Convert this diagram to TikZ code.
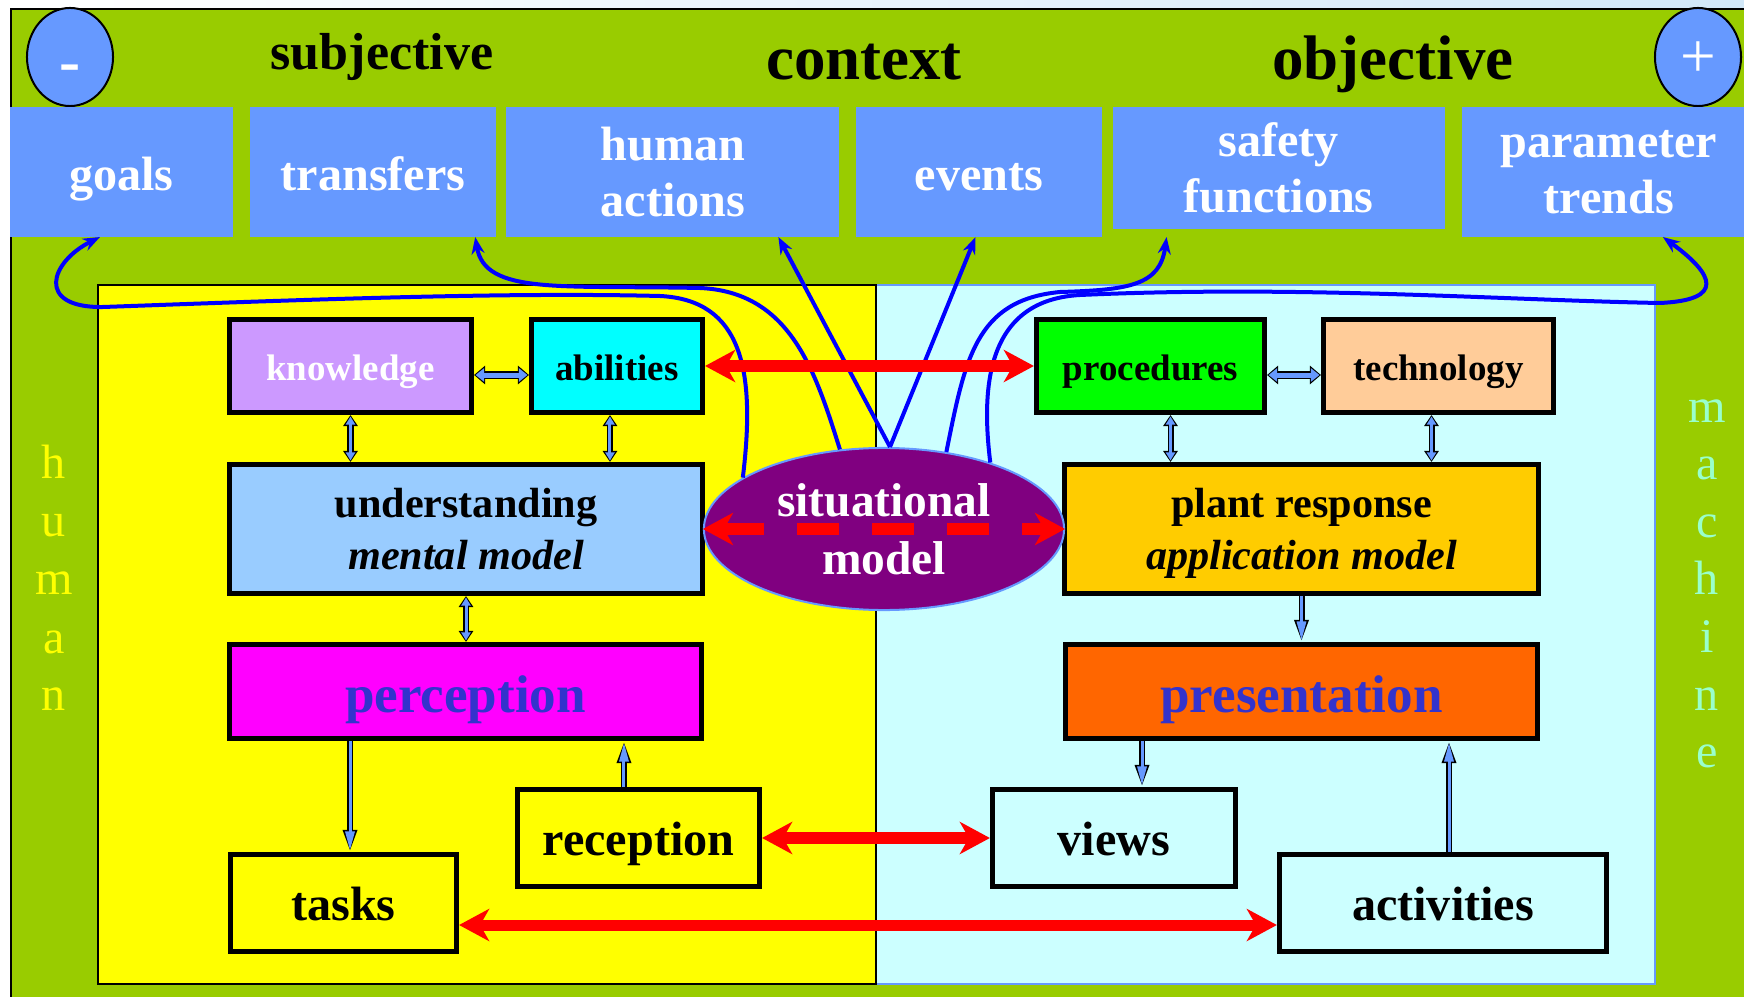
\documentclass[tikz,border=0pt]{standalone}
\usepackage{fontspec}
\setmainfont{Liberation Serif}
\usetikzlibrary{arrows.meta}
\usetikzlibrary{shapes.geometric}
\usetikzlibrary{positioning}

\definecolor{bggreen}{HTML}{99CC00}
\definecolor{ctxblue}{HTML}{6699FF}
\definecolor{topsky}{HTML}{D2E8F8}
\definecolor{humyel}{HTML}{FFFF00}
\definecolor{machcyan}{HTML}{CCFFFF}
\definecolor{machtext}{HTML}{99FFCC}
\definecolor{knowfill}{HTML}{CC99FF}
\definecolor{abilfill}{HTML}{00FFFF}
\definecolor{underfill}{HTML}{99CCFF}
\definecolor{percfill}{HTML}{FF00FF}
\definecolor{procfill}{HTML}{00FF00}
\definecolor{techfill}{HTML}{FFCC99}
\definecolor{plantfill}{HTML}{FFCC00}
\definecolor{presfill}{HTML}{FF6600}
\definecolor{deeptext}{HTML}{3333CC}
\definecolor{sitpurple}{HTML}{800080}

\tikzset{
  ctxbox/.style={fill=ctxblue, text=white, inner sep=0pt, outer sep=0pt, align=center,
    minimum height=1.30cm, font=\bfseries\fontsize{13.7}{15.9}\selectfont},
  oneline/.style={text height=0.46cm, text depth=0.10cm},
  block/.style={draw=black, line width=0.05cm, inner sep=0pt, align=center},
  small/.style={font=\bfseries\fontsize{10.5}{12.6}\selectfont, text height=0.36cm, text depth=0.08cm},
  mid/.style={font=\bfseries\fontsize{12}{14.8}\selectfont},
  big/.style={font=\bfseries\fontsize{13.7}{16}\selectfont, text height=0.44cm, text depth=0.10cm},
  huge/.style={font=\bfseries\fontsize{15.1}{18}\selectfont, text=deeptext, text height=0.51cm, text depth=0.10cm},
  side/.style={anchor=base, font=\fontsize{13.7}{16}\selectfont},
  dbl/.style={draw=ctxblue, line width=0.03cm, shorten <=0.015cm, shorten >=0.015cm,
    arrows={Triangle[length=0.08cm,width=0.09cm]-Triangle[length=0.08cm,width=0.09cm]},
    preaction={draw=black, line width=0.06cm, shorten <=0pt, shorten >=0pt,
      arrows={Triangle[length=0.11cm,width=0.14cm]-Triangle[length=0.11cm,width=0.14cm]}}},
  dblwide/.style={draw=ctxblue, line width=0.05cm, shorten <=0.015cm, shorten >=0.015cm,
    arrows={Triangle[length=0.085cm,width=0.13cm]-Triangle[length=0.085cm,width=0.13cm]},
    preaction={draw=black, line width=0.08cm, shorten <=0pt, shorten >=0pt,
      arrows={Triangle[length=0.11cm,width=0.18cm]-Triangle[length=0.11cm,width=0.18cm]}}},
  one/.style={draw=ctxblue, line width=0.03cm, shorten >=0.015cm,
    arrows={-Triangle[length=0.19cm,width=0.09cm]},
    preaction={draw=black, line width=0.06cm, shorten >=0pt,
      arrows={-Triangle[length=0.22cm,width=0.13cm]}}},
  redlink/.style={draw=red, line width=0.11cm,
    arrows={Stealth[length=0.30cm,width=0.32cm,inset=0.09cm]-Stealth[length=0.30cm,width=0.32cm,inset=0.09cm]}},
  ctxlink/.style={draw=blue, line width=0.04cm, -{Stealth[length=0.17cm,width=0.13cm]}}
}

\begin{document}
\begin{tikzpicture}[x=0.01cm, y=-0.01cm]
  \useasboundingbox (0,0) rectangle (1744,997);
  % frame
  \shade[left color=white, right color=topsky] (0,0) rectangle (1744,9);
  \fill[bggreen, draw=black, line width=0.02cm] (11,9) rectangle (1760,1010);
  \fill[machcyan, draw=ctxblue, line width=0.02cm] (876,285) rectangle (1655,984);
  \fill[humyel, draw=black, line width=0.02cm] (98,285) rectangle (876,984);

  % context row
  \node[ellipse, fill=ctxblue, draw=black, line width=0.02cm, minimum width=0.86cm,
    minimum height=0.98cm, inner sep=0pt, text=white, text height=0.5cm, text depth=0pt,
    font=\bfseries\fontsize{18}{20}\selectfont] (minus) at (70,57) {-};
  \node[ellipse, fill=ctxblue, draw=black, line width=0.02cm, minimum width=0.86cm,
    minimum height=0.98cm, inner sep=0pt, text=white, text height=0.4cm, text depth=0pt,
    font=\fontsize{18}{20}\selectfont] (plus) at (1698,57) {+};
  \node[anchor=base, font=\bfseries\fontsize{14.8}{17}\selectfont] (subj) at (382,70) {subjective};
  \node[anchor=base, font=\bfseries\fontsize{17.9}{21}\selectfont] (ctxhead) at (864,80) {context};
  \node[anchor=base, font=\bfseries\fontsize{17.9}{21}\selectfont] (obj) at (1393,80) {objective};

  \node[ctxbox, oneline, minimum width=2.23cm] (goals) at (121.5,172) {goals};
  \node[ctxbox, oneline, minimum width=2.46cm, right=0.17cm of goals] (transfers) {transfers};
  \node[ctxbox, minimum width=3.33cm, right=0.10cm of transfers] (humanact) {human\\actions};
  \node[ctxbox, oneline, minimum width=2.45cm, right=0.17cm of humanact] (events) {events};
  \node[ctxbox, minimum width=3.32cm, minimum height=1.22cm,
    right=0.11cm of events.north east, anchor=north west] (safety) {safety\\functions};
  \node[ctxbox, minimum width=2.94cm,
    right=0.17cm of safety.north east, anchor=north west] (trends) {parameter\\trends};

  % side words
  \foreach \ch [count=\i] in {h,u,m,a,n}
    \node[side, text=humyel] (hum\i) at (54,{421+58*\i}) {\ch};
  \foreach \ch [count=\i] in {m,a,c,h,i,n,e}
    \node[side, text=machtext] (mach\i) at (1707,{365+57.5*\i}) {\ch};

  % human side
  \node[block, small, fill=knowfill, text=white, minimum width=2.42cm, minimum height=0.93cm] (knowledge) at (350.5,366) {knowledge};
  \node[block, small, fill=abilfill, minimum width=1.71cm, minimum height=0.93cm] (abilities) at (617,366) {abilities};
  \node[block, mid, fill=underfill, minimum width=4.73cm, minimum height=1.29cm] (understanding) at (466,529) {understanding\\\textit{mental model}};
  \node[block, huge, fill=percfill, minimum width=4.72cm, minimum height=0.94cm] (perception) at (465.5,691.5) {perception};
  \node[block, big, fill=humyel, minimum width=2.42cm, minimum height=0.97cm] (reception) at (638.5,838) {reception};
  \node[block, big, fill=humyel, minimum width=2.26cm, minimum height=0.97cm] (tasks) at (343.5,903) {tasks};

  % machine side
  \node[block, small, fill=procfill, minimum width=2.28cm, minimum height=0.93cm] (procedures) at (1150.5,366) {procedures};
  \node[block, small, fill=techfill, minimum width=2.30cm, minimum height=0.93cm] (technology) at (1438.5,366) {technology};
  \node[block, mid, fill=plantfill, minimum width=4.74cm, minimum height=1.29cm] (plantresp) at (1301.5,529) {plant response\\\raisebox{0pt}[\height][0pt]{\textit{application model}}};
  \node[block, huge, fill=presfill, minimum width=4.72cm, minimum height=0.94cm] (presentation) at (1301.5,691.5) {presentation};
  \node[block, big, fill=machcyan, minimum width=2.43cm, minimum height=0.97cm] (views) at (1114,838) {views};
  \node[block, big, fill=machcyan, minimum width=3.27cm, minimum height=0.97cm] (activities) at (1443,903) {activities};

  \node[ellipse, fill=sitpurple, draw=ctxblue, line width=0.02cm, minimum width=3.6cm,
    minimum height=1.62cm, inner sep=0pt, text=white, align=center,
    font=\bfseries\fontsize{13.5}{16.5}\selectfont] (sitmodel) at (884,529) {situational\\model};

  % blue links
  \draw[dblwide] ([yshift=-0.09cm]knowledge.east) -- ([yshift=-0.09cm]abilities.west);
  \draw[dblwide] ([yshift=-0.09cm]procedures.east) -- ([yshift=-0.09cm]technology.west);
  \draw[dbl] (knowledge.south) -- (knowledge.south |- understanding.north);
  \draw[dbl] ([xshift=-0.07cm]abilities.south) -- ([xshift=-0.07cm]abilities.south |- understanding.north);
  \draw[dbl] (understanding.south) -- (understanding.south |- perception.north);
  \draw[dbl] ([xshift=0.2cm]procedures.south) -- ([xshift=0.2cm]procedures.south |- plantresp.north);
  \draw[dbl] ([xshift=-0.07cm]technology.south) -- ([xshift=-0.07cm]technology.south |- plantresp.north);
  \draw[one] (plantresp.south) -- (presentation.north);
  \draw[one] ([xshift=0.065cm]tasks.north |- perception.south) -- ([xshift=0.065cm]tasks.north);
  \draw[one] ([xshift=-0.145cm]reception.north) -- ([xshift=-0.145cm]reception.north |- perception.south);
  \draw[one] ([xshift=0.28cm]views.north |- presentation.south) -- ([xshift=0.28cm]views.north);
  \draw[one] ([xshift=0.06cm]activities.north) -- ([xshift=0.06cm]activities.north |- presentation.south);

  % context links
  \draw[ctxlink] (sitmodel.160) .. controls (756,370) and (742,300) .. (660,296)
    .. controls (500,292) and (300,300) .. (103,307)
    .. controls (35,308) and (50,262) .. ([xshift=-0.215cm]goals.south);
  \draw[ctxlink] (sitmodel.119) .. controls (815,370) and (790,292) .. (700,288)
    .. controls (560,285) and (485,295) .. ([xshift=1.02cm]transfers.south);
  \draw[ctxlink] ([xshift=0.06cm]sitmodel.north) -- ([xshift=1.055cm]humanact.south);
  \draw[ctxlink] ([xshift=0.06cm]sitmodel.north) -- ([xshift=-0.035cm]events.south);
  \draw[ctxlink] (sitmodel.51) .. controls (965,360) and (975,300) .. (1060,292)
    .. controls (1130,290) and (1160,285) .. ([xshift=-1.12cm,yshift=-0.08cm]safety.south);
  \draw[ctxlink] (sitmodel.32) .. controls (980,380) and (990,300) .. (1080,295)
    .. controls (1300,285) and (1500,300) .. (1660,303)
    .. controls (1725,300) and (1715,275) .. ([xshift=0.54cm]trends.south);

  % red links
  \draw[redlink] (abilities.east) -- (procedures.west);
  \draw[redlink] (reception.east) -- (views.west);
  \draw[redlink] ([yshift=-0.22cm]tasks.east) -- ([yshift=-0.22cm]activities.west);
  \draw[redlink, dash pattern=on 0.42cm off 0.33cm] (sitmodel.west) -- (sitmodel.east);
\end{tikzpicture}
\end{document}
